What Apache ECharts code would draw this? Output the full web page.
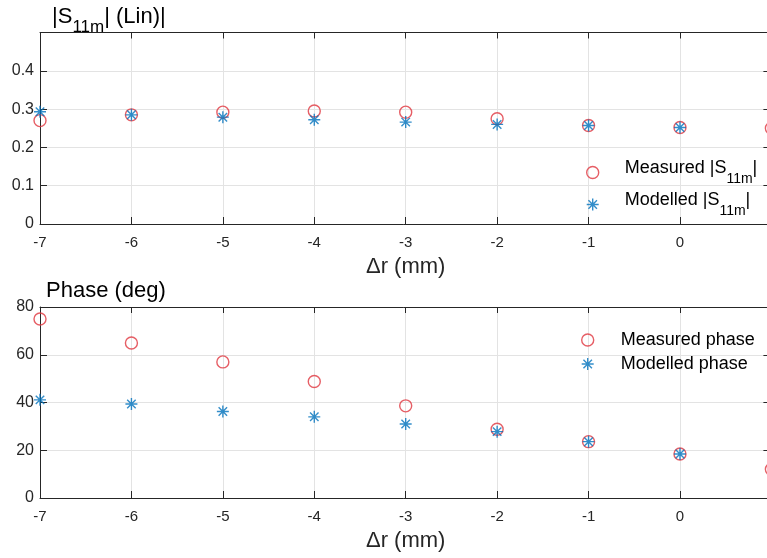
<!DOCTYPE html>
<html>
<head>
<meta charset="utf-8">
<script src="https://cdn.jsdelivr.net/npm/echarts@6/dist/echarts.min.js"></script>
<style>
html,body{margin:0;padding:0;background:#fff;}
#c{width:767px;height:558px;}
</style>
</head>
<body>
<div id="c"></div>
<script>
// ---- data ----
const xValues = [-7, -6, -5, -4, -3, -2, -1, 0, 1];
const measuredMag = [0.270, 0.285, 0.292, 0.295, 0.292, 0.275, 0.257, 0.252, 0.250];
const modelledMag = [0.293, 0.285, 0.279, 0.272, 0.266, 0.260, 0.257, 0.252];
const measuredPhase = [75.0, 64.9, 57.0, 48.8, 38.6, 28.8, 23.6, 18.4, 12.0];
const modelledPhase = [41.1, 39.4, 36.2, 34.0, 31.0, 27.8, 23.6, 18.4];
const magTickLabels = ['0', '0.1', '0.2', '0.3', '0.4'];
const phaseTickLabels = ['0', '20', '40', '60', '80'];
const xTickLabels = ['-7', '-6', '-5', '-4', '-3', '-2', '-1', '0', '1'];

const pairs = (xs, ys) => ys.map((y, i) => [xs[i], y]);

const FONT = 'Liberation Sans, Arial, Helvetica, sans-serif';
const AX = '#262626';
const GRIDC = '#e3e3e3';
const RED = '#e0363f';
const BLUE = '#0072bd';
const STAR = 'path://M0,-10L0,10M-10,0L10,0M-7.07,-7.07L7.07,7.07M-7.07,7.07L7.07,-7.07';

function fmtLabel(list) {
  return function (v) {
    const s = String(Math.round(v * 1000) / 1000);
    return list.indexOf(s) >= 0 ? s : '';
  };
}

function bottomX(gi) {
  return {
    gridIndex: gi, type: 'value', min: -7, max: 1, interval: 1, position: 'bottom',
    axisLine: {show: true, onZero: false, lineStyle: {color: AX, width: 1}},
    axisTick: {show: true, inside: true, length: 7, lineStyle: {color: AX}},
    axisLabel: {show: true, fontFamily: FONT, fontSize: 15, color: AX, margin: 11, hideOverlap: false,
      formatter: function (v) { const s = String(v); return xTickLabels.indexOf(s) >= 0 ? s : ''; }},
    splitLine: {show: true, lineStyle: {color: GRIDC, width: 1}},
    name: '\u0394r (mm)', nameLocation: 'middle', nameGap: 32,
    nameTextStyle: {fontFamily: FONT, fontSize: 22, color: AX}
  };
}
function topX(gi) {
  return {
    gridIndex: gi, type: 'value', min: -7, max: 1, interval: 1, position: 'top',
    axisLine: {show: true, onZero: false, lineStyle: {color: AX, width: 1}},
    axisTick: {show: true, inside: true, length: 6, lineStyle: {color: AX}},
    axisLabel: {show: false}, splitLine: {show: false}
  };
}
function leftY(gi, max, interval, labels) {
  return {
    gridIndex: gi, type: 'value', min: 0, max: max, interval: interval, position: 'left',
    axisLine: {show: true, onZero: false, lineStyle: {color: AX, width: 1}},
    axisTick: {show: true, inside: true, length: 7, lineStyle: {color: AX}},
    axisLabel: {show: true, fontFamily: FONT, fontSize: 16, color: AX, margin: 6, hideOverlap: false, formatter: fmtLabel(labels)},
    splitLine: {show: true, lineStyle: {color: GRIDC, width: 1}}
  };
}
function rightY(gi, max, interval) {
  return {
    gridIndex: gi, type: 'value', min: 0, max: max, interval: interval, position: 'right',
    axisLine: {show: true, onZero: false, lineStyle: {color: AX, width: 1}},
    axisTick: {show: true, inside: true, length: 8, lineStyle: {color: AX}},
    axisLabel: {show: false}, splitLine: {show: false}
  };
}

const circleStyle = {color: 'rgba(0,0,0,0)', borderColor: RED, borderWidth: 1.4};
const starStyle = {color: 'rgba(0,0,0,0)', borderColor: BLUE, borderWidth: 1.4};

// icon 12px wide centred at iconCx; text begins `gap` px after the icon (plus legend's 5px)
function legendFor(name, iconCx, top, gap, icon, style, fmt) {
  return {
    data: [{name: name, icon: icon, itemStyle: style}],
    left: iconCx - 6, top: top, orient: 'vertical', padding: 0,
    itemWidth: 12, itemHeight: 12, selectedMode: false,
    textStyle: {fontFamily: FONT, fontSize: 18, color: '#000',
      rich: {p: {fontFamily: FONT, fontSize: 18, color: '#000', padding: [0, 0, 0, gap]},
             a0: {fontFamily: FONT, fontSize: 18, color: '#000', lineHeight: 27, padding: [0, 0, 0, gap], verticalAlign: 'top'},
             a: {fontFamily: FONT, fontSize: 18, color: '#000', lineHeight: 27, verticalAlign: 'top'},
             b: {fontFamily: FONT, fontSize: 14, color: '#000', lineHeight: 16, verticalAlign: 'bottom'}}},
    formatter: fmt
  };
}

const chart = echarts.init(document.getElementById('c'), null, {renderer: 'canvas'});
chart.setOption({
  animation: false,
  backgroundColor: '#ffffff',
  title: [
    {text: '{a||S}{b|11m}{a|| (Lin)|}', left: 52, top: 6, padding: 0,
     textStyle: {rich: {
       a: {fontFamily: FONT, fontSize: 22, fontWeight: 'normal', color: '#000', lineHeight: 30, verticalAlign: 'top'},
       b: {fontFamily: FONT, fontSize: 17, fontWeight: 'normal', color: '#000', lineHeight: 18, verticalAlign: 'bottom'}}}},
    {text: 'Phase (deg)', left: 46, top: 280, padding: 0,
     textStyle: {fontFamily: FONT, fontSize: 22, fontWeight: 'normal', color: '#000'}}
  ],
  legend: [
    legendFor('Measured |S11m|', 592, 159, 21, 'circle', circleStyle, () => '{a0|Measured |S}{b|11m}{a||}'),
    legendFor('Modelled |S11m|', 592, 191, 21, STAR, starStyle, () => '{a0|Modelled |S}{b|11m}{a||}'),
    legendFor('Measured phase', 587, 331, 22, 'circle', circleStyle, () => '{p|Measured phase}'),
    legendFor('Modelled phase', 587, 355, 22, STAR, starStyle, () => '{p|Modelled phase}')
  ],
  grid: [
    {left: 40, top: 32.5, width: 731.4, height: 191.5, containLabel: false, outerBoundsMode: 'none'},
    {left: 40, top: 307, width: 731.4, height: 191, containLabel: false, outerBoundsMode: 'none'}
  ],
  xAxis: [bottomX(0), topX(0), bottomX(1), topX(1)],
  yAxis: [leftY(0, 0.5, 0.1, magTickLabels), rightY(0, 0.5, 0.1), leftY(1, 80, 20, phaseTickLabels), rightY(1, 80, 20)],
  series: [
    {name: 'Measured |S11m|', type: 'scatter', xAxisIndex: 0, yAxisIndex: 0, symbol: 'circle', symbolSize: 12,
     itemStyle: circleStyle, data: pairs(xValues, measuredMag), clip: false},
    {name: 'Modelled |S11m|', type: 'scatter', xAxisIndex: 0, yAxisIndex: 0, symbol: STAR, symbolSize: 12,
     itemStyle: starStyle, data: pairs(xValues, modelledMag), clip: false},
    {name: 'Measured phase', type: 'scatter', xAxisIndex: 2, yAxisIndex: 2, symbol: 'circle', symbolSize: 12,
     itemStyle: circleStyle, data: pairs(xValues, measuredPhase), clip: false},
    {name: 'Modelled phase', type: 'scatter', xAxisIndex: 2, yAxisIndex: 2, symbol: STAR, symbolSize: 12,
     itemStyle: starStyle, data: pairs(xValues, modelledPhase), clip: false}
  ]
});
</script>
</body>
</html>
